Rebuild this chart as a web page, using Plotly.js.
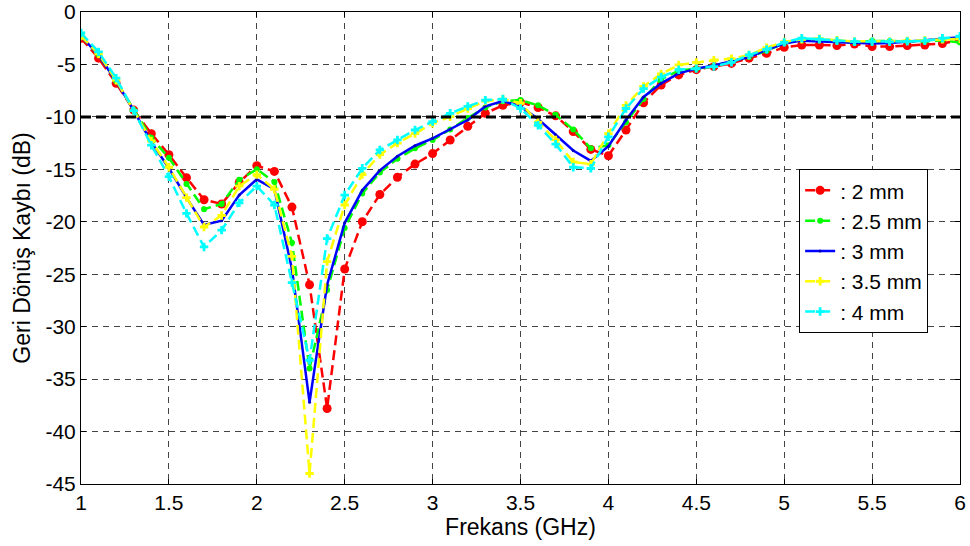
<!DOCTYPE html>
<html>
<head>
<meta charset="utf-8">
<script src="https://cdn.plot.ly/plotly-3.0.1.min.js"></script>
<style>html,body{margin:0;padding:0;background:#fff;}#chart{width:970px;height:546px;}</style>
</head>
<body>
<div id="chart"></div>
<script>
var freq = [1.0,1.1,1.2,1.3,1.4,1.5,1.6,1.7,1.8,1.9,
            2.0,2.1,2.2,2.3,2.4,2.5,2.6,2.7,2.8,2.9,
            3.0,3.1,3.2,3.3,3.4,3.5,3.6,3.7,3.8,3.9,
            4.0,4.1,4.2,4.3,4.4,4.5,4.6,4.7,4.8,4.9,
            5.0,5.1,5.2,5.3,5.4,5.5,5.6,5.7,5.8,5.9,6.0];

var s2mm = [-2.5,-4.4,-6.8,-9.35,-11.6,-13.6,-15.8,-17.9,-18.3,-16.25,
            -14.65,-15.2,-18.6,-26.0,-37.8,-24.5,-20.0,-17.4,-15.75,-14.5,
            -13.5,-12.2,-10.9,-9.66,-8.9,-8.6,-9.1,-9.9,-11.4,-13.1,
            -13.7,-11.25,-8.65,-6.96,-6.0,-5.5,-5.2,-4.9,-4.4,-3.94,
            -3.37,-3.15,-3.15,-3.2,-3.05,-3.3,-3.3,-3.2,-3.15,-3.0,-2.7];

var s25mm = [-2.3,-4.1,-6.6,-9.35,-12.0,-13.9,-16.4,-18.8,-18.3,-16.0,
             -15.0,-16.2,-22.0,-34.0,-26.5,-20.6,-17.3,-15.3,-14.0,-13.0,
             -12.2,-11.2,-10.1,-9.1,-8.5,-8.4,-8.9,-9.8,-11.2,-13.0,
             -12.7,-10.5,-8.3,-6.4,-5.6,-5.4,-5.15,-4.7,-4.3,-3.7,
             -2.95,-2.7,-2.7,-2.8,-2.9,-2.75,-2.8,-2.8,-2.8,-2.7,-2.9];

var s3mm = [-2.3,-4.1,-6.6,-9.4,-12.4,-14.9,-17.7,-20.3,-19.9,-17.45,
            -15.95,-16.9,-24.5,-37.2,-26.0,-20.1,-17.0,-15.1,-13.75,-12.75,
            -12.05,-11.2,-10.3,-9.0,-8.5,-9.0,-10.2,-11.7,-13.2,-14.2,
            -12.8,-10.3,-8.1,-6.8,-5.85,-5.4,-5.1,-4.7,-4.3,-3.6,
            -3.0,-2.73,-2.8,-2.9,-2.97,-3.0,-2.95,-2.85,-2.7,-2.55,-2.4];

var s35mm = [-2.3,-4.0,-6.5,-9.4,-12.3,-14.8,-17.7,-20.5,-19.4,-16.6,
             -15.5,-16.9,-23.3,-44.0,-23.8,-18.4,-15.5,-13.6,-12.5,-11.6,
             -10.6,-9.98,-9.2,-8.5,-8.3,-8.7,-10.5,-12.2,-14.3,-14.5,
             -11.6,-8.9,-7.1,-5.9,-5.05,-4.8,-4.6,-4.45,-4.1,-3.4,
             -2.85,-2.6,-2.55,-2.7,-2.8,-2.8,-2.8,-2.75,-2.7,-2.6,-2.55];

var s4mm = [-2.0,-3.8,-6.3,-9.4,-12.7,-15.7,-19.2,-22.4,-20.8,-18.2,
            -16.6,-18.4,-25.8,-33.2,-21.6,-17.45,-14.9,-13.15,-12.2,-11.25,
            -10.45,-9.66,-9.0,-8.4,-8.3,-9.2,-10.8,-12.6,-14.8,-14.9,
            -11.9,-9.2,-7.3,-6.2,-5.5,-5.4,-5.2,-4.8,-4.1,-3.56,
            -2.9,-2.5,-2.6,-2.75,-2.83,-2.83,-2.85,-2.8,-2.75,-2.5,-2.3];

var refX = [1, 6];
var refY = [-10, -10];

var seriesNames = [': 2 mm', ': 2.5 mm', ': 3 mm', ': 3.5 mm', ': 4 mm'];
var xTicks = [1, 1.5, 2, 2.5, 3, 3.5, 4, 4.5, 5, 5.5, 6];
var xTickText = ['1', '1.5', '2', '2.5', '3', '3.5', '4', '4.5', '5', '5.5', '6'];
var yTicks = [0, -5, -10, -15, -20, -25, -30, -35, -40, -45];
var yTickText = ['0', '-5', '-10', '-15', '-20', '-25', '-30', '-35', '-40', '-45'];

var dashPat = '10px,5px';
var traces = [
  {x: freq, y: s2mm, name: seriesNames[0], mode: 'lines+markers', legendgroup: 'a',
   line: {color: '#ff0000', width: 2.5, dash: dashPat},
   marker: {color: '#ff0000', size: 9, symbol: 'circle'}},
  {x: freq, y: s25mm, name: seriesNames[1], mode: 'lines+markers', legendgroup: 'b',
   line: {color: '#00ff00', width: 2.5, dash: dashPat},
   marker: {color: '#00ff00', size: 6, symbol: 'circle'}},
  {x: freq, y: s3mm, name: seriesNames[2], mode: 'lines+markers', legendgroup: 'c',
   line: {color: '#0000ff', width: 2.5},
   marker: {color: '#0000c0', size: 3, symbol: 'circle'}},
  {x: freq, y: s35mm, name: seriesNames[3], mode: 'lines+markers', legendgroup: 'd',
   line: {color: '#ffff00', width: 2.5, dash: dashPat},
   marker: {color: '#ffff00', size: 7, symbol: 'cross'}},
  {x: freq, y: s4mm, name: seriesNames[4], mode: 'lines+markers', legendgroup: 'e',
   line: {color: '#00ffff', width: 2.5, dash: dashPat},
   marker: {color: '#00ffff', size: 7, symbol: 'cross'}},
  {x: refX, y: refY, mode: 'lines', showlegend: false, hoverinfo: 'skip',
   line: {color: '#000000', width: 3, dash: '10px,5px'}}
];

var fontFam = '"Liberation Sans", Arial, sans-serif';
var layout = {
  width: 970, height: 546,
  margin: {l: 81, r: 10, t: 12, b: 62},
  paper_bgcolor: '#ffffff', plot_bgcolor: '#ffffff',
  font: {family: fontFam, size: 21, color: '#000000'},
  showlegend: true,
  legend: {x: 0.817, y: 0.667, xanchor: 'left', yanchor: 'top',
           bgcolor: '#ffffff', bordercolor: '#000000', borderwidth: 1,
           font: {family: fontFam, size: 21, color: '#000000'},
           tracegroupgap: 0},
  xaxis: {
    range: [1, 6], tickmode: 'array', tickvals: xTicks, ticktext: xTickText,
    ticks: 'inside', ticklen: 5, tickcolor: '#000', showline: true, linecolor: '#000', linewidth: 1,
    mirror: 'ticks', showgrid: true, gridcolor: '#444444', gridwidth: 1, griddash: '6px,5px',
    zeroline: false, tickfont: {size: 21, family: fontFam, color: '#000'},
    title: {text: 'Frekans (GHz)', font: {size: 23, family: fontFam, color: '#000'}, standoff: 0}
  },
  yaxis: {
    range: [-45, 0], tickmode: 'array', tickvals: yTicks, ticktext: yTickText,
    ticks: 'inside', ticklen: 5, tickcolor: '#000', showline: true, linecolor: '#000', linewidth: 1,
    mirror: 'ticks', showgrid: true, gridcolor: '#444444', gridwidth: 1, griddash: '6px,5px',
    zeroline: false, tickfont: {size: 21, family: fontFam, color: '#000'},
    title: {text: 'Geri Dönüş Kaybı (dB)', font: {size: 23, family: fontFam, color: '#000'}, standoff: 8}
  }
};

Plotly.newPlot('chart', traces, layout, {displayModeBar: false, staticPlot: true});
</script>
</body>
</html>
